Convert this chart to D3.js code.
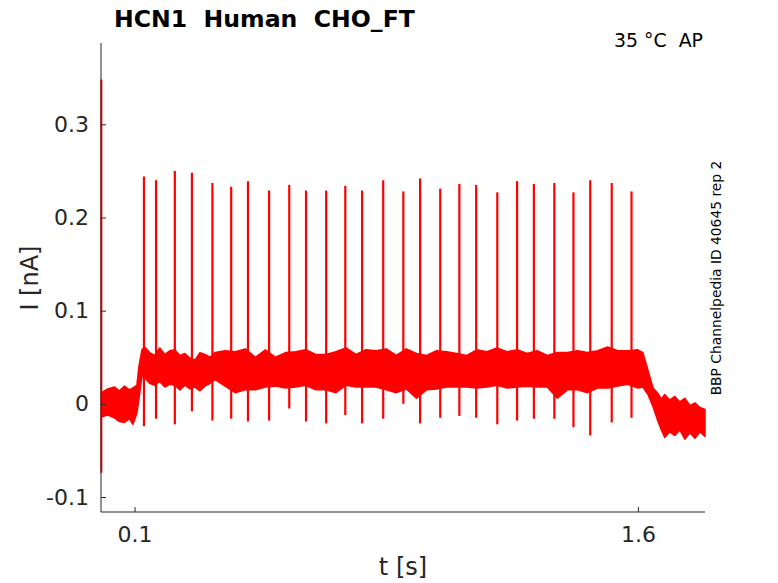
<!DOCTYPE html>
<html>
<head>
<meta charset="utf-8">
<script src="https://cdn.jsdelivr.net/npm/d3@7"></script>
<style>
  body { margin: 0; background: #fff; }
  svg { display: block; font-family: "DejaVu Sans", sans-serif; }
  text { white-space: pre; }
</style>
</head>
<body>
<svg id="chart" width="778" height="583"></svg>
<script>
// tick labels
const xTicks = [0.1, 1.6];
const yTicks = [-0.1, 0, 0.1, 0.2, 0.3];

// onset transient at t = 0 (nA)
const onsetT = 0.001;
const onsetPeak = 0.348;
const onsetTrough = -0.074;

// noise band envelope of the trace (s, nA)
const bandT = [0.002, 0.02, 0.04, 0.055, 0.07, 0.085, 0.095, 0.107, 0.113, 0.122, 0.13, 0.145, 0.16, 0.175, 0.19, 0.205,
  0.22, 0.235, 0.25, 0.265, 0.28, 0.295, 0.31, 0.325, 0.34, 0.37, 0.40, 0.43, 0.46, 0.49, 0.52, 0.55, 0.58, 0.61,
  0.64, 0.67, 0.70, 0.73, 0.76, 0.79, 0.82, 0.85, 0.88, 0.91, 0.94, 0.97, 1.00, 1.03, 1.06, 1.09, 1.12, 1.15,
  1.18, 1.21, 1.24, 1.27, 1.30, 1.33, 1.36, 1.39, 1.42, 1.45, 1.48, 1.51, 1.54, 1.57, 1.60, 1.615, 1.63, 1.645,
  1.66, 1.67, 1.68, 1.695, 1.71, 1.725, 1.74, 1.755, 1.77, 1.785, 1.80];
const bandHi = [0.012, 0.016, 0.018, 0.014, 0.019, 0.015, 0.017, 0.020, 0.040, 0.058, 0.061, 0.055, 0.052, 0.060, 0.053, 0.057,
  0.058, 0.052, 0.054, 0.049, 0.047, 0.055, 0.053, 0.050, 0.055, 0.057, 0.056, 0.059, 0.050, 0.058, 0.050, 0.055, 0.056, 0.058,
  0.053, 0.053, 0.056, 0.060, 0.053, 0.058, 0.057, 0.059, 0.052, 0.059, 0.054, 0.052, 0.057, 0.056, 0.054, 0.052, 0.058, 0.056,
  0.060, 0.056, 0.058, 0.054, 0.057, 0.052, 0.055, 0.055, 0.057, 0.055, 0.057, 0.061, 0.057, 0.057, 0.058, 0.055, 0.036, 0.017,
  0.011, 0.005, 0.010, 0.004, 0.008, 0.002, 0.006, -0.002, 0.001, -0.004, -0.006];
const bandLo = [-0.014, -0.012, -0.015, -0.019, -0.020, -0.016, -0.022, -0.010, 0.005, 0.030, 0.028, 0.022, 0.020, 0.024, 0.018, 0.021,
  0.020, 0.015, 0.020, 0.016, 0.018, 0.014, 0.019, 0.022, 0.026, 0.019, 0.012, 0.015, 0.015, 0.018, 0.019, 0.017, 0.018, 0.020,
  0.015, 0.015, 0.012, 0.020, 0.018, 0.018, 0.018, 0.015, 0.012, 0.016, 0.006, 0.015, 0.016, 0.018, 0.018, 0.018, 0.017, 0.018,
  0.020, 0.017, 0.018, 0.019, 0.018, 0.018, 0.006, 0.015, 0.015, 0.012, 0.017, 0.017, 0.019, 0.021, 0.017, 0.018, 0.010, -0.003,
  -0.019, -0.028, -0.036, -0.030, -0.034, -0.028, -0.038, -0.031, -0.037, -0.030, -0.035];

// action-potential-like spikes during the step (s, nA)
const spikeT = [0.128, 0.164, 0.220, 0.271, 0.332, 0.388, 0.438, 0.501, 0.561, 0.611, 0.671, 0.728, 0.778, 0.841,
  0.901, 0.951, 1.011, 1.068, 1.118, 1.181, 1.240, 1.290, 1.351, 1.408, 1.458, 1.522, 1.581];
const spikePeak = [0.244, 0.240, 0.250, 0.248, 0.237, 0.233, 0.239, 0.229, 0.235, 0.229, 0.229, 0.234, 0.229, 0.240,
  0.228, 0.242, 0.231, 0.236, 0.235, 0.227, 0.239, 0.236, 0.237, 0.227, 0.240, 0.237, 0.228];
const spikeTrough = [-0.024, -0.016, -0.022, -0.008, -0.018, -0.016, -0.019, -0.018, -0.005, -0.019, -0.021, -0.012,
  -0.021, -0.016, 0.000, -0.021, -0.015, -0.013, -0.015, -0.022, -0.018, -0.016, -0.016, -0.025, -0.034, -0.020, -0.015];

const margin = { top: 43, right: 73, bottom: 71, left: 101 };
const width = 778, height = 583;
const red = '#ff0000';
const axisColor = '#262626';

const svg = d3.select('#chart');

const x = d3.scaleLinear().domain([0, 1.8]).range([margin.left, width - margin.right]);
const y = d3.scaleLinear().domain([-0.1161, 0.3873]).range([height - margin.bottom, margin.top]);

// trace
const plot = svg.append('g');

const band = bandT.map((t, i) => ({ t: t, hi: bandHi[i], lo: bandLo[i] }));
plot.append('path')
  .datum(band)
  .attr('d', d3.area().x(d => x(d.t)).y0(d => y(d.lo)).y1(d => y(d.hi)))
  .attr('fill', red)
  .attr('stroke', red)
  .attr('stroke-width', 1.5)
  .attr('stroke-linejoin', 'round');

plot.append('line')
  .attr('x1', x(onsetT)).attr('x2', x(onsetT))
  .attr('y1', y(onsetPeak)).attr('y2', y(onsetTrough))
  .attr('stroke', red)
  .attr('stroke-width', 2);

const spikes = spikeT.map((t, i) => ({ t: t, peak: spikePeak[i], trough: spikeTrough[i] }));
plot.selectAll('.spike')
  .data(spikes)
  .enter().append('line')
  .attr('class', 'spike')
  .attr('x1', d => x(d.t)).attr('x2', d => x(d.t))
  .attr('y1', d => y(d.peak)).attr('y2', d => y(d.trough))
  .attr('stroke', red)
  .attr('stroke-width', 2.2);

// axes
const fmt = d => d === 0 ? '0' : d3.format('.1f')(d).replace('\u2212', '-');
const xAxis = d3.axisBottom(x).tickValues(xTicks).tickSize(-5).tickPadding(14).tickFormat(fmt);
const yAxis = d3.axisLeft(y).tickValues(yTicks).tickSize(-5).tickPadding(12).tickFormat(fmt);

const gx = svg.append('g')
  .attr('transform', `translate(0,${height - margin.bottom})`)
  .call(xAxis);
const gy = svg.append('g')
  .attr('transform', `translate(${margin.left},0)`)
  .call(yAxis);

[gx, gy].forEach(g => {
  g.select('.domain').attr('stroke', axisColor).attr('stroke-width', 1)
    .attr('d', g === gx
      ? `M${margin.left},0H${width - margin.right}`
      : `M0,${height - margin.bottom}V${margin.top}`);
  g.selectAll('.tick line').attr('stroke', axisColor);
  g.selectAll('.tick text')
    .attr('fill', axisColor)
    .style('font-size', '22px')
    .style('font-family', '"DejaVu Sans", sans-serif');
});
gx.selectAll('.tick text').attr('dy', '0.71em');

// labels
svg.append('text')
  .attr('x', x(0.9))
  .attr('y', 575)
  .attr('text-anchor', 'middle')
  .attr('fill', axisColor)
  .style('font-size', '24px')
  .text('t [s]');

svg.append('text')
  .attr('transform', `translate(38,${y(0.135)}) rotate(-90)`)
  .attr('text-anchor', 'middle')
  .attr('fill', axisColor)
  .style('font-size', '24px')
  .text('I [nA]');

// fit a text element to a target width by adjusting its font size
function fitWidth(sel, target) {
  const fs = parseFloat(sel.style('font-size'));
  const w = sel.node().getComputedTextLength();
  sel.style('font-size', `${fs * target / w}px`);
}

const title = svg.append('text')
  .attr('x', 114)
  .attr('y', 27)
  .attr('fill', '#000')
  .style('font-size', '20px')
  .style('font-weight', 'bold')
  .text('HCN1  Human  CHO_FT');
fitWidth(title, 301);

const temp = svg.append('text')
  .attr('x', 703)
  .attr('y', 47)
  .attr('text-anchor', 'end')
  .attr('fill', '#000')
  .style('font-size', '17px')
  .text('35 °C  AP');
fitWidth(temp, 89);

const src = svg.append('text')
  .attr('transform', `translate(721,${y(0.135)}) rotate(-90)`)
  .attr('text-anchor', 'middle')
  .attr('fill', '#000')
  .style('font-size', '13px')
  .text('BBP Channelpedia ID 40645 rep 2');
fitWidth(src, 235);
</script>
</body>
</html>
